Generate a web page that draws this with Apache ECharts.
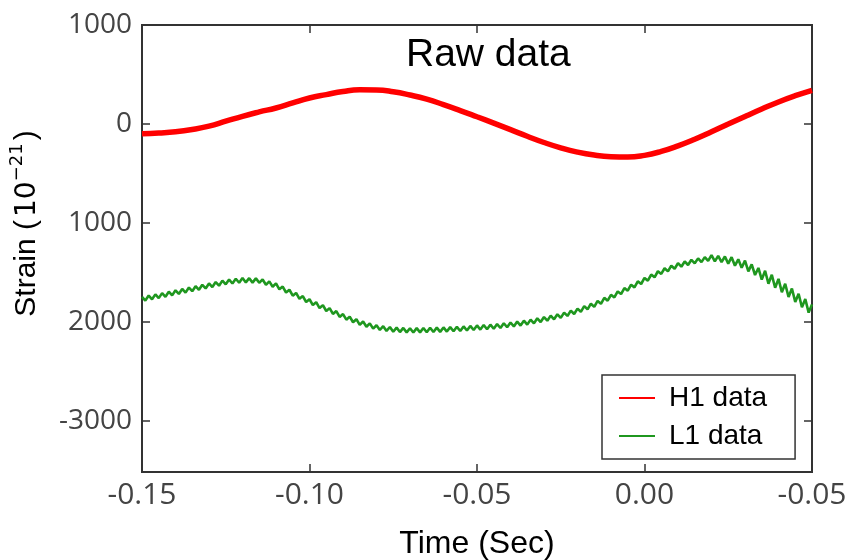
<!DOCTYPE html>
<html>
<head>
<meta charset="utf-8">
<script src="https://cdn.jsdelivr.net/npm/echarts@6/dist/echarts.min.js"></script>
<style>
  html, body { margin: 0; padding: 0; background: #fff; }
  #chart { width: 850px; height: 560px; }
</style>
</head>
<body>
<div id="chart"></div>
<script>
// Strain of the two detectors around the event, in units of 1e-21.

// H1 samples (time in seconds)
const h1Times = [
  -0.150, -0.145, -0.140, -0.135, -0.130, -0.125, -0.120, -0.115, -0.110, -0.105,
  -0.100, -0.095, -0.090, -0.085, -0.080, -0.075, -0.070, -0.065, -0.060, -0.055,
  -0.050, -0.045, -0.040, -0.035, -0.030, -0.025, -0.020, -0.015, -0.010, -0.005,
   0.000,  0.005,  0.010,  0.015,  0.020,  0.025,  0.030,  0.035,  0.040,  0.045,
   0.050
];
const h1Strain = [
  -100,  -92,  -80,  -57,  -23,   27,   77,  121,  161,  212,
   262,  296,  328,  345,  343,  325,  292,  250,  195,  135,
    72,    8,  -58, -125, -188, -242, -285, -315, -332, -336,
  -318, -278, -222, -155,  -80,   -2,   75,  150,  222,  285,
   340
];

// L1 samples, one every millisecond starting at -0.150 s
const l1Start = -0.150;
const l1Step = 0.001;
const l1Strain = [
  -1748, -1786, -1736, -1774, -1724, -1762, -1711, -1748, -1697, -1734,
  -1683, -1720, -1669, -1706, -1655, -1692, -1641, -1678, -1627, -1664,
  -1613, -1650, -1599, -1636, -1585, -1622, -1574, -1614, -1566, -1606,
  -1558, -1603, -1560, -1605, -1562, -1607, -1573, -1627, -1593, -1647,
  -1613, -1673, -1645, -1705, -1677, -1737, -1709, -1769, -1741, -1801,
  -1773, -1832, -1803, -1862, -1833, -1892, -1863, -1922, -1893, -1952,
  -1923, -1980, -1949, -2006, -1975, -2032, -1998, -2051, -2017, -2070,
  -2036, -2084, -2045, -2093, -2054, -2102, -2060, -2105, -2063, -2108,
  -2066, -2109, -2065, -2108, -2064, -2107, -2062, -2105, -2060, -2103,
  -2058, -2100, -2055, -2097, -2052, -2094, -2048, -2089, -2043, -2084,
  -2038, -2080, -2034, -2076, -2030, -2072, -2024, -2064, -2016, -2056,
  -2008, -2048, -1999, -2039, -1990, -2030, -1979, -2017, -1966, -2004,
  -1953, -1990, -1939, -1976, -1925, -1962, -1908, -1942, -1888, -1922,
  -1868, -1900, -1843, -1875, -1818, -1850, -1790, -1819, -1759, -1788,
  -1728, -1755, -1694, -1721, -1660, -1687, -1626, -1653, -1592, -1619,
  -1558, -1585, -1524, -1551, -1490, -1517, -1460, -1491, -1434, -1465,
  -1408, -1444, -1391, -1427, -1374, -1410, -1360, -1398, -1347, -1385,
  -1327, -1391, -1334, -1398, -1341, -1413, -1348, -1434, -1369, -1455,
  -1383, -1491, -1420, -1528, -1457, -1575, -1485, -1616, -1526, -1657,
  -1567, -1702, -1616, -1751, -1665, -1800, -1717, -1854, -1771, -1908,
  -1825
];

// Axis ticks and their printed labels
const xTickValues = [-0.15, -0.10, -0.05, 0.00, 0.05];
const xTickLabels = ['-0.15', '-0.10', '-0.05', '0.00', '-0.05'];
const yTickValues = [1000, 0, -1000, -2000, -3000];
const yTickLabels = ['1000', '0', '1000', '2000', '-3000'];

const seriesNames = ['H1 data', 'L1 data'];
const seriesColors = ['#ff0000', '#1f971f'];

const h1Data = h1Times.map((t, i) => [t, h1Strain[i]]);
const l1Data = l1Strain.map((v, i) => [l1Start + i * l1Step, v]);

const labelFor = (values, labels) => (v) => {
  let best = 0;
  values.forEach((tv, i) => { if (Math.abs(tv - v) < Math.abs(values[best] - v)) best = i; });
  return labels[best];
};

const tickStyle = { show: true, inside: true, length: 8, lineStyle: { color: '#333', width: 1.5 } };
const hiddenLine = { show: false, onZero: false };

const chart = echarts.init(document.getElementById('chart'), null, { renderer: 'canvas' });
chart.setOption({
  animation: false,
  backgroundColor: '#fff',
  title: {
    text: 'Raw data',
    left: 406,
    top: 36,
    padding: 0,
    textStyle: { fontFamily: 'Liberation Sans', fontSize: 39, fontWeight: 'normal', color: '#000' }
  },
  legend: {
    data: seriesNames.map((n) => ({ name: n, icon: 'rect' })),
    orient: 'vertical',
    left: 602,
    top: 375,
    itemWidth: 36,
    itemHeight: 2,
    itemGap: 8,
    padding: [8, 28, 8, 17],
    borderColor: '#333',
    borderWidth: 1.5,
    backgroundColor: '#fff',
    textStyle: { fontFamily: 'Liberation Sans', fontSize: 28, color: '#000', lineHeight: 30, padding: [0, 0, 0, 9] }
  },
  grid: {
    left: 142, right: 38, top: 25, bottom: 88,
    show: true, borderColor: '#333', borderWidth: 2,
    outerBoundsMode: 'none'
  },
  xAxis: [{
    type: 'value',
    min: -0.15, max: 0.05,
    position: 'bottom',
    axisLine: hiddenLine,
    splitLine: { show: false },
    axisTick: Object.assign({ customValues: xTickValues }, tickStyle),
    axisLabel: {
      customValues: xTickValues,
      formatter: labelFor(xTickValues, xTickLabels),
      margin: 8,
      fontFamily: 'Open Sans', fontSize: 30, color: '#444'
    },
    name: 'Time (Sec)',
    nameLocation: 'middle',
    nameGap: 56,
    nameTextStyle: { fontFamily: 'Liberation Sans', fontSize: 32, color: '#000' }
  }, {
    type: 'value',
    min: -0.15, max: 0.05,
    position: 'top',
    axisLine: hiddenLine,
    splitLine: { show: false },
    axisTick: Object.assign({ customValues: xTickValues }, tickStyle),
    axisLabel: { show: false }
  }],
  yAxis: [{
    type: 'value',
    min: -3520, max: 1000,
    position: 'left',
    axisLine: hiddenLine,
    splitLine: { show: false },
    axisTick: Object.assign({ customValues: yTickValues }, tickStyle),
    axisLabel: {
      customValues: yTickValues,
      formatter: labelFor(yTickValues, yTickLabels),
      margin: 10,
      fontFamily: 'Open Sans', fontSize: 28, color: '#444'
    },
    name: '{a|Strain (}{m|10}{s|−21}{a|)}',
    nameLocation: 'middle',
    nameGap: 100,
    nameRotate: 90,
    nameTextStyle: {
      padding: [0, 0, 0, 50],
      rich: {
        a: { fontFamily: 'Liberation Sans', fontSize: 30, color: '#000', verticalAlign: 'bottom', lineHeight: 34 },
        m: { fontFamily: 'DejaVu Sans', fontSize: 28, color: '#000', verticalAlign: 'bottom', lineHeight: 34, padding: [0, 0, 0, 3] },
        s: { fontFamily: 'DejaVu Sans', fontSize: 18, color: '#000', verticalAlign: 'top', lineHeight: 20, padding: [0, 3, 0, 0] }
      }
    }
  }, {
    type: 'value',
    min: -3520, max: 1000,
    position: 'right',
    axisLine: hiddenLine,
    splitLine: { show: false },
    axisTick: Object.assign({ customValues: yTickValues }, tickStyle),
    axisLabel: { show: false }
  }],
  series: [{
    name: seriesNames[0],
    type: 'line',
    data: h1Data,
    smooth: true,
    showSymbol: false,
    symbol: 'none',
    lineStyle: { color: seriesColors[0], width: 5.5 },
    itemStyle: { color: seriesColors[0] },
    z: 3
  }, {
    name: seriesNames[1],
    type: 'line',
    data: l1Data,
    showSymbol: false,
    symbol: 'none',
    lineStyle: { color: seriesColors[1], width: 2.6 },
    itemStyle: { color: seriesColors[1] },
    z: 2
  }]
});
</script>
</body>
</html>
